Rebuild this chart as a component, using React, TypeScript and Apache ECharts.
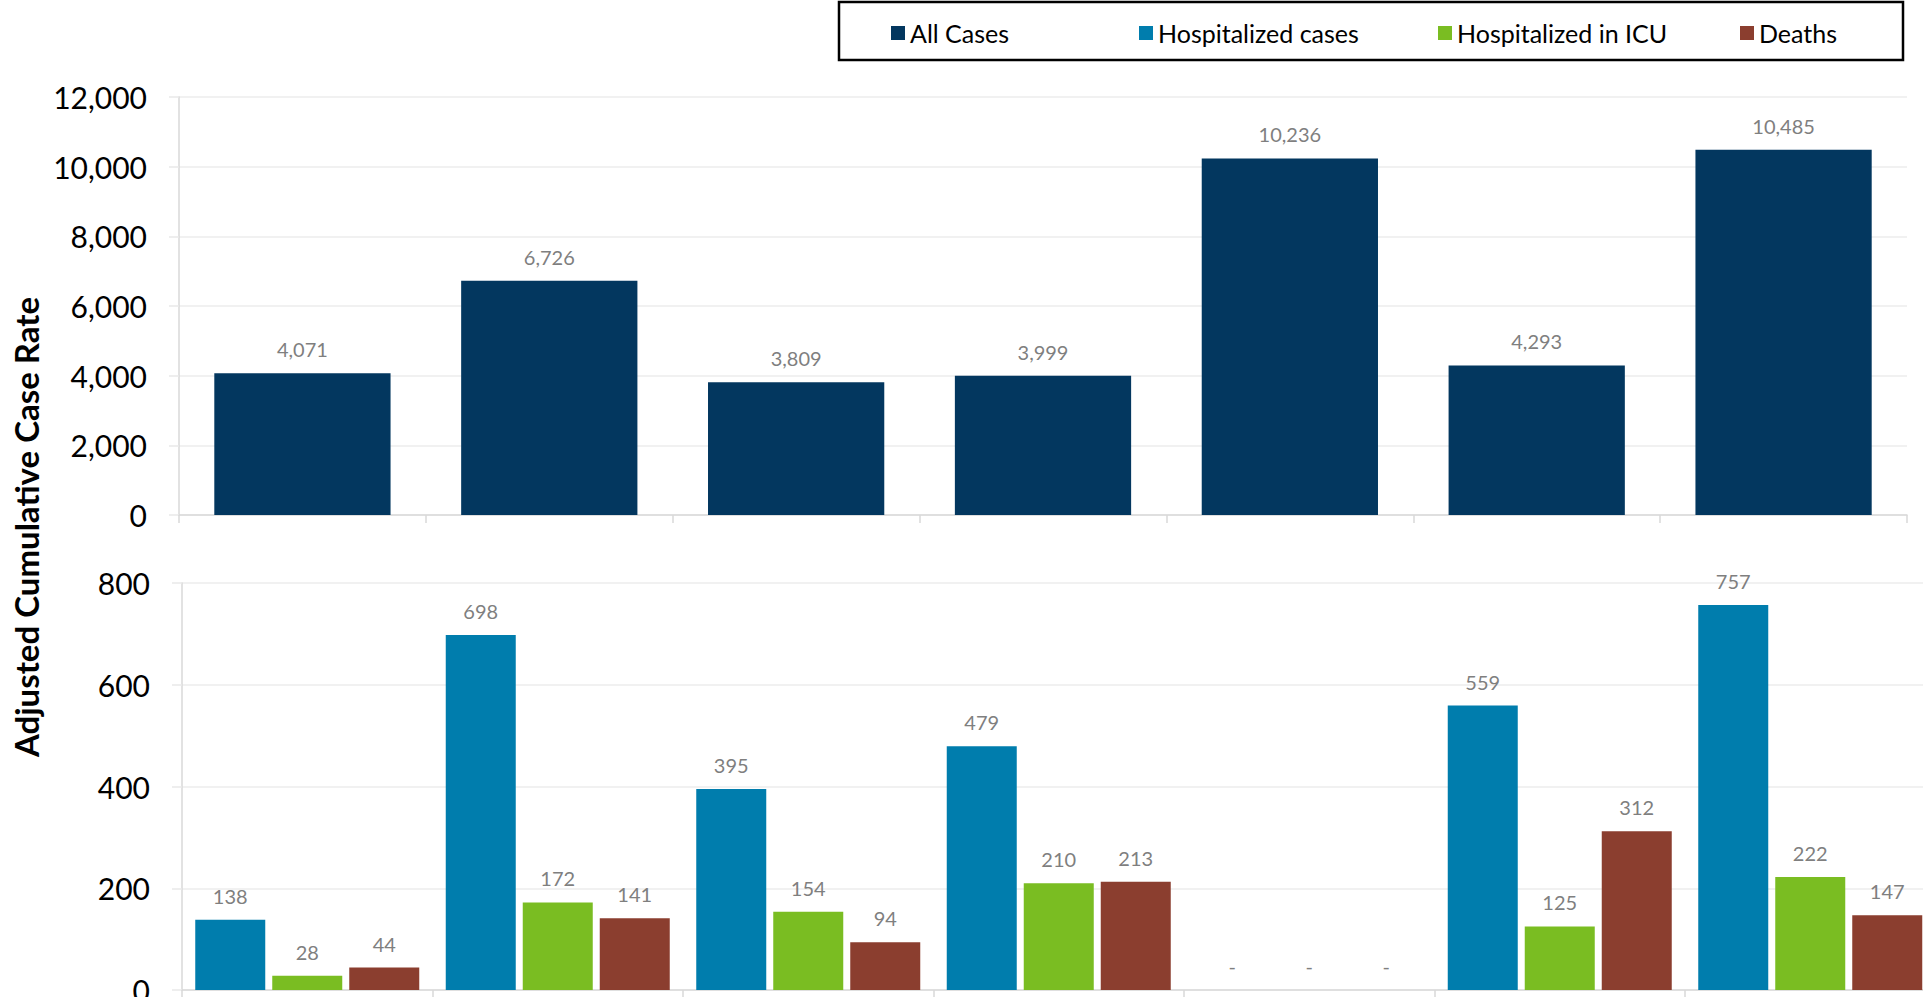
import React, { useEffect, useRef } from "react";
import * as echarts from "echarts";

const categories = ["Group 1", "Group 2", "Group 3", "Group 4", "Group 5", "Group 6", "Group 7"];
const allCases = [4071, 6726, 3809, 3999, 10236, 4293, 10485];
const hospitalized = [138, 698, 395, 479, 0, 559, 757];
const icu = [28, 172, 154, 210, 0, 125, 222];
const deaths = [44, 141, 94, 213, 0, 312, 147];

const seriesNames = ["All Cases", "Hospitalized cases", "Hospitalized in ICU", "Deaths"];
const colors = ["#03375F", "#007DAD", "#7ABD22", "#8B3E2F"];
const legendLefts = [891, 1139, 1438, 1740];
const yTitle = "Adjusted Cumulative Case Rate";

const FONT = "Lato, 'Noto Sans', sans-serif";

export default function App() {
  const ref = useRef<HTMLDivElement>(null);
  useEffect(() => {
    if (!ref.current) return;
    document.body.style.overflow = "hidden";
    const chart = echarts.init(ref.current, undefined, { renderer: "svg" });
    const fmt = (p: any) => (p.value === 0 ? "-" : Number(p.value).toLocaleString("en-US"));
    const label = {
      show: true,
      position: "top",
      distance: 14,
      color: "#7F7F7F",
      fontSize: 20,
      fontFamily: FONT,
      formatter: fmt,
    };
    const xAxisCommon = {
      type: "category",
      data: categories,
      axisLine: { show: true, lineStyle: { color: "#D9D9D9", width: 1.5 } },
      axisTick: { show: true, length: 8, lineStyle: { color: "#D9D9D9", width: 1.5 } },
      axisLabel: { show: false },
      splitLine: { show: false },
    };
    const yAxisCommon = {
      type: "value",
      axisLine: { show: true, lineStyle: { color: "#D9D9D9", width: 1.5 } },
      axisTick: { show: true, length: 10, lineStyle: { color: "#E8E8E8", width: 1.5 } },
      axisLabel: { color: "#000", fontSize: 30, fontFamily: FONT, margin: 32, formatter: (v: number) => v.toLocaleString("en-US") },
      splitLine: { show: true, lineStyle: { color: "#EDEDED", width: 1.5 } },
    };
    const legends = seriesNames.map((n, i) => ({
      data: [n],
      left: legendLefts[i],
      top: 19,
      padding: 0,
      icon: "rect",
      itemWidth: 14,
      itemHeight: 14,
      textStyle: { color: "#000", fontSize: 25, fontFamily: FONT, lineHeight: 28 },
      selectedMode: false,
    }));
    chart.setOption({
      animation: false,
      color: colors,
      legend: legends,
      grid: [
        { left: 179, right: 43, top: 97, bottom: 482, outerBoundsMode: "none" },
        { left: 182, right: 14.5, top: 583, bottom: 7, outerBoundsMode: "none" },
      ],
      xAxis: [
        { ...xAxisCommon, gridIndex: 0 },
        { ...xAxisCommon, gridIndex: 1 },
      ],
      yAxis: [
        { ...yAxisCommon, gridIndex: 0, min: 0, max: 12000, interval: 2000 },
        { ...yAxisCommon, gridIndex: 1, min: 0, max: 800, interval: 200 },
      ],
      series: [
        {
          name: seriesNames[0], type: "bar", xAxisIndex: 0, yAxisIndex: 0, data: allCases,
          barCategoryGap: "28.6%", itemStyle: { color: colors[0] }, label,
        },
        {
          name: seriesNames[1], type: "bar", xAxisIndex: 1, yAxisIndex: 1, data: hospitalized,
          barWidth: 70, barGap: "10%", itemStyle: { color: colors[1] }, label,
        },
        {
          name: seriesNames[2], type: "bar", xAxisIndex: 1, yAxisIndex: 1, data: icu,
          barWidth: 70, barGap: "10%", itemStyle: { color: colors[2] }, label,
        },
        {
          name: seriesNames[3], type: "bar", xAxisIndex: 1, yAxisIndex: 1, data: deaths,
          barWidth: 70, barGap: "10%", itemStyle: { color: colors[3] }, label,
        },
      ],
      graphic: [
        {
          type: "rect",
          shape: { x: 839, y: 2, width: 1064, height: 58 },
          style: { fill: "none", stroke: "#000", lineWidth: 2.5 },
          silent: true,
        },
        {
          type: "text",
          x: 26,
          y: 527,
          rotation: Math.PI / 2,
          style: {
            text: yTitle,
            fill: "#000",
            font: `bold 33px ${FONT}`,
            textAlign: "center",
            textVerticalAlign: "middle",
          },
          silent: true,
        },
      ],
    });
    return () => chart.dispose();
  }, []);
  return (
    <div
      ref={ref}
      style={{ position: "fixed", left: 0, top: 0, width: 1950, height: 997, background: "#fff" }}
    />
  );
}
